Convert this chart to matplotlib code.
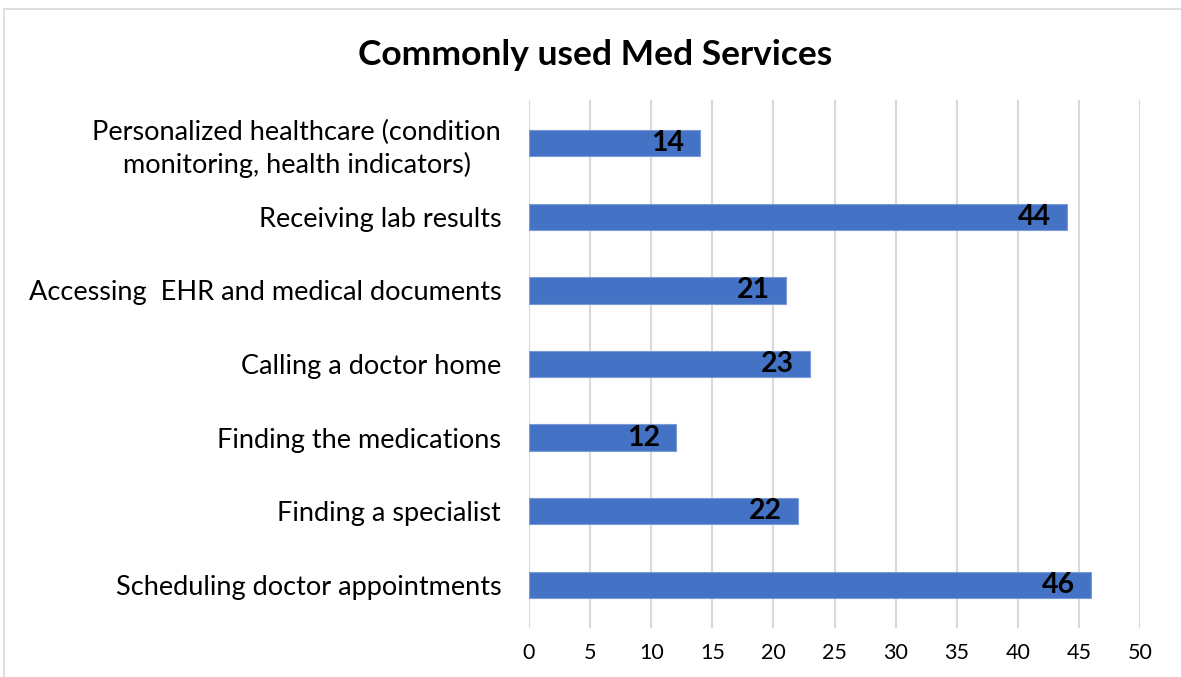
import matplotlib
matplotlib.use("Agg")
import matplotlib.pyplot as plt

services = [
    "Scheduling doctor appointments",
    "Finding a specialist",
    "Finding the medications",
    "Calling a doctor home",
    "Accessing  EHR and medical documents",
    "Receiving lab results",
    "Personalized healthcare (condition\nmonitoring, health indicators)",
]
counts = [46, 22, 12, 23, 21, 44, 14]
xticks = list(range(0, 51, 5))

plt.rcParams["font.family"] = ["Lato", "DejaVu Sans"]

fig = plt.figure(figsize=(11.81, 6.77), dpi=100)
# outer chart frame like Excel
fig.patches.append(plt.Rectangle((4 / 1181, -0.01), 1.2, 1 - 9 / 677 + 0.01,
                                 transform=fig.transFigure, fill=False,
                                 edgecolor="#d9d9d9", linewidth=1.2))

ax = fig.add_axes([529 / 1181, 1 - 628 / 677, (1140 - 529) / 1181, 528 / 677])
pos = list(range(len(services)))
bars = ax.barh(pos, counts, height=0.355, color="#4472C4", edgecolor="#7b9bd6",
               linewidth=0.8, zorder=3)

for b, v in zip(bars, counts):
    ax.text(b.get_width() - 1.3, b.get_y() + b.get_height() / 2, str(v),
            ha="right", va="center", fontsize=20.5, fontweight="bold",
            color="black", zorder=4)

ax.set_xlim(0, 50)
ax.set_ylim(-0.59, 6.59)
ax.set_xticks(xticks)
ax.set_yticks(pos)
ax.set_yticklabels(services, fontsize=19.5, linespacing=1.3)
ax.tick_params(axis="x", labelsize=15.5, length=0, pad=11)
ax.tick_params(axis="y", length=0, pad=20)
for lbl in ax.get_yticklabels():
    lbl.set_multialignment("center")
ax.grid(axis="x", color="#d9d9d9", linewidth=1.5, zorder=0)
for s in ax.spines.values():
    s.set_visible(False)

fig.text(595 / 1181, 1 - 55 / 677, "Commonly used Med Services", ha="center",
         va="center", fontsize=25.5, fontweight="bold")

fig.savefig("out.png", dpi=100)
